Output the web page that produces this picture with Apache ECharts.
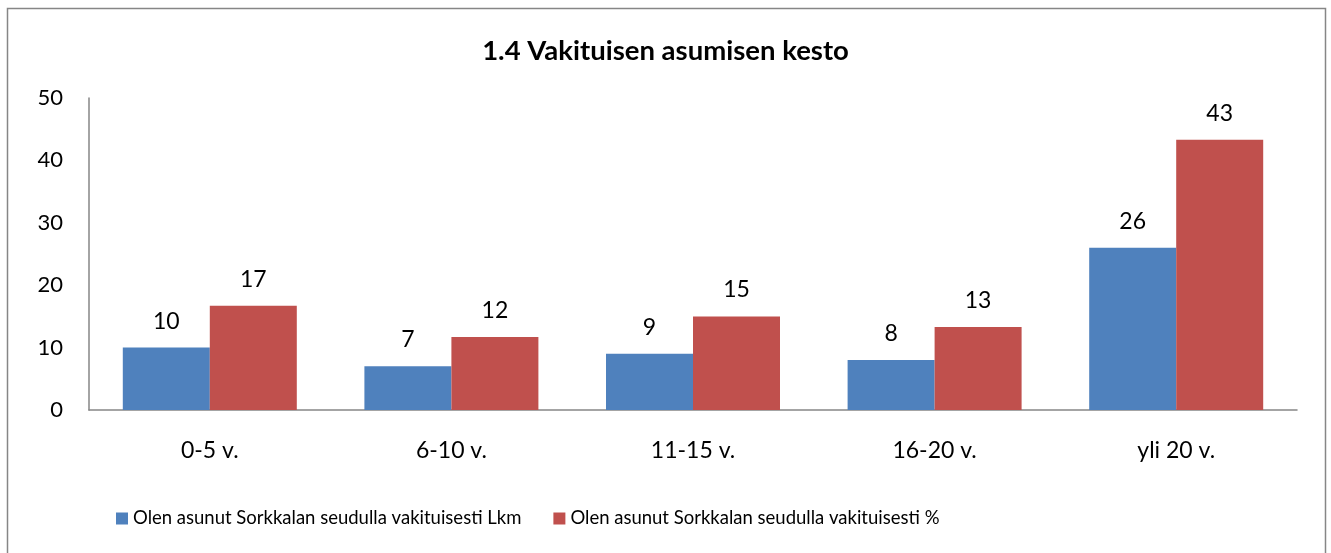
<!DOCTYPE html>
<html>
<head>
<meta charset="utf-8">
<script src="https://cdn.jsdelivr.net/npm/echarts@6/dist/echarts.min.js"></script>
<style>
  html, body { margin: 0; padding: 0; background: #fff; }
  #chart { width: 1331px; height: 553px; }
</style>
</head>
<body>
<div id="chart"></div>
<script>
let categories = ['0-5 v.', '6-10 v.', '11-15 v.', '16-20 v.', 'yli 20 v.'];
let countValues = [10, 7, 9, 8, 26];
let percentValues = [16.7, 11.7, 15, 13.3, 43.3];
let seriesNames = [
  'Olen asunut Sorkkalan seudulla vakituisesti Lkm',
  'Olen asunut Sorkkalan seudulla vakituisesti %'
];

let fontName = 'Lato, "Open Sans", sans-serif';
let chart = echarts.init(document.getElementById('chart'));

let barLabel = {
  show: true,
  position: 'top',
  distance: 15,
  color: '#000',
  fontFamily: fontName,
  fontSize: 23,
  formatter: (p) => Math.round(p.value)
};

let option = {
  backgroundColor: '#fff',
  animation: false,
  title: {
    text: '1.4 Vakituisen asumisen kesto',
    left: 'center',
    top: 32,
    textStyle: { fontFamily: fontName, fontSize: 27.5, fontWeight: 'bold', color: '#000' }
  },
  graphic: [{
    type: 'rect',
    shape: { x: 7.5, y: 8.5, width: 1318, height: 560 },
    style: { fill: 'none', stroke: '#868686', lineWidth: 1.5 },
    silent: true
  }],
  legend: {
    bottom: 20,
    left: 111,
    itemWidth: 12,
    itemHeight: 12,
    itemGap: 32,
    icon: 'rect',
    textStyle: { fontFamily: fontName, fontSize: 18.5, color: '#000' },
    data: seriesNames
  },
  grid: { left: 89, right: 34, top: 98, bottom: 143 },
  xAxis: {
    type: 'category',
    data: categories,
    axisLine: { lineStyle: { color: '#868686', width: 1.5 } },
    axisTick: { show: false },
    axisLabel: { fontFamily: fontName, fontSize: 23, color: '#000', margin: 29 }
  },
  yAxis: {
    type: 'value',
    min: 0,
    max: 50,
    interval: 10,
    axisLine: { show: true, lineStyle: { color: '#868686', width: 1.5 } },
    axisTick: { show: false },
    splitLine: { show: false },
    axisLabel: { fontFamily: fontName, fontSize: 22, color: '#000', margin: 26 }
  },
  series: [
    {
      name: seriesNames[0],
      type: 'bar',
      data: countValues,
      barWidth: 87,
      barGap: '0%',
      itemStyle: { color: '#4F81BD' },
      label: barLabel
    },
    {
      name: seriesNames[1],
      type: 'bar',
      data: percentValues,
      barWidth: 87,
      barGap: '0%',
      itemStyle: { color: '#C0504D' },
      label: barLabel
    }
  ]
};

chart.setOption(option);
</script>
</body>
</html>
